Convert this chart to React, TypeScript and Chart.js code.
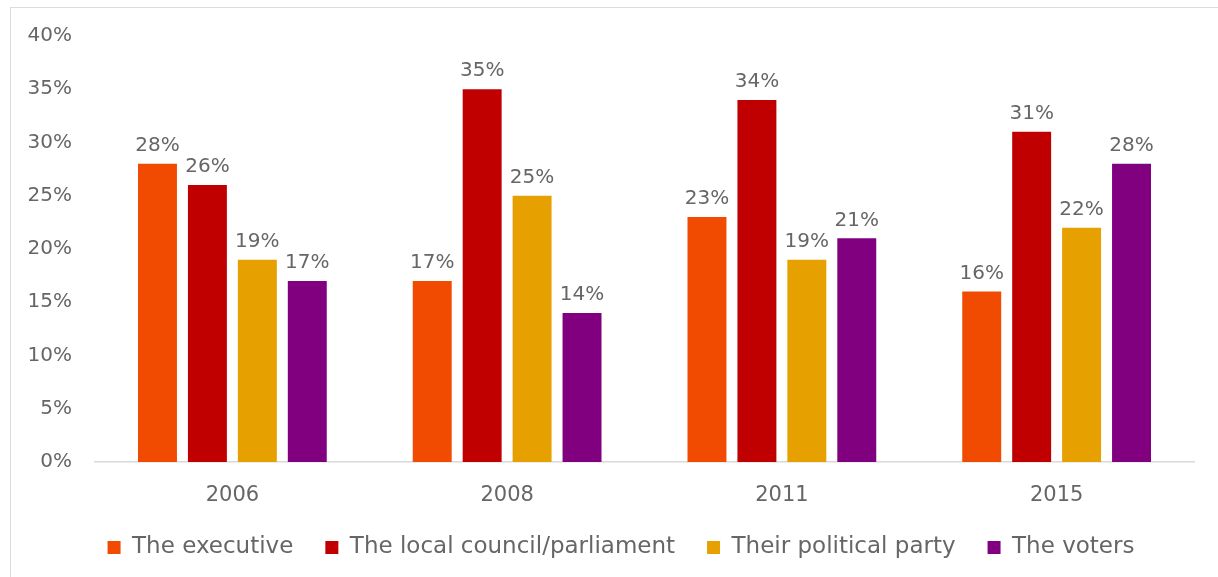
import React, { useEffect, useRef } from "react";
import { Chart, registerables } from "chart.js";

Chart.register(...registerables);

const years = ["2006", "2008", "2011", "2015"];
const seriesNames = ["The executive", "The local council/parliament", "Their political party", "The voters"];
const executive = [28, 17, 23, 16];
const council = [26, 35, 34, 31];
const party = [19, 25, 19, 22];
const voters = [17, 14, 21, 28];
const colors = ["#F04B00", "#C00000", "#E6A000", "#800080"];
const yTicks = [0, 5, 10, 15, 20, 25, 30, 35, 40];

const FONT = "'DejaVu Sans', sans-serif";
const TEXT = "#666666";

const labelPlugin = {
  id: "valueLabels",
  afterLayout(chart: any) {
    if (chart.legend) {
      chart.legend.left += 24;
      chart.legend.right += 24;
    }
  },
  afterDatasetsDraw(chart: any) {
    const ctx = chart.ctx;
    ctx.save();
    ctx.font = `20px ${FONT}`;
    ctx.fillStyle = TEXT;
    ctx.textAlign = "center";
    ctx.textBaseline = "bottom";
    chart.data.datasets.forEach((ds: any, i: number) => {
      const meta = chart.getDatasetMeta(i);
      meta.data.forEach((el: any, j: number) => {
        ctx.fillText(ds.data[j] + "%", el.x, el.y - 8);
      });
    });
    ctx.restore();
  },
};

export default function App() {
  const ref = useRef<HTMLCanvasElement>(null);
  useEffect(() => {
    const data = [executive, council, party, voters];
    const chart = new Chart(ref.current!, {
      type: "bar",
      data: {
        labels: years,
        datasets: seriesNames.map((n, i) => ({
          label: n,
          data: data[i],
          backgroundColor: colors[i],
          categoryPercentage: 0.727,
          barPercentage: 0.78,
        })),
      },
      options: {
        animation: false,
        responsive: false,
        layout: { padding: { top: 36, right: 24, left: 0, bottom: 8 } },
        plugins: {
          tooltip: { enabled: false },
          legend: {
            position: "bottom",
            labels: {
              font: { family: FONT, size: 23 },
              color: TEXT,
              boxWidth: 13,
              boxHeight: 13,
              padding: 32,
            },
          },
        },
        scales: {
          x: {
            grid: { display: false, drawTicks: false },
            border: { display: true, color: "#D9D9D9", width: 1.5 },
            ticks: { font: { family: FONT, size: 21 }, color: TEXT, padding: 21 },
            afterFit(scale: any) {
              scale.height = 42;
            },
          },
          y: {
            min: 0,
            max: 40,
            afterBuildTicks(scale: any) {
              scale.ticks = yTicks.map((v) => ({ value: v }));
            },
            grid: { display: false, drawTicks: false },
            border: { display: false },
            ticks: {
              font: { family: FONT, size: 20 },
              color: TEXT,
              padding: 23,
              callback: (v: any) => v + "%",
            },
            afterFit(scale: any) {
              scale.width = 95;
            },
          },
        },
      },
      plugins: [labelPlugin],
    });
    return () => chart.destroy();
  }, []);
  return (
    <div style={{ position: "absolute", left: 0, top: 0, width: 1218, height: 577, background: "#fff", overflow: "hidden" }}>
      <div style={{ position: "absolute", left: 10, top: 7, width: 1400, height: 700, border: "1.5px solid #DCDCDC", boxSizing: "border-box" }} />
      <canvas ref={ref} width={1218} height={577} style={{ position: "absolute", left: 0, top: 0 }} />
    </div>
  );
}
